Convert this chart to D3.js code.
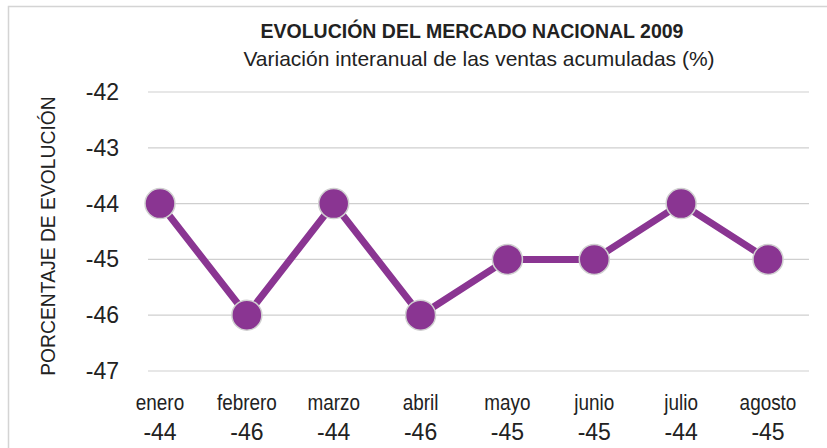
<!DOCTYPE html>
<html>
<head>
<meta charset="utf-8">
<script src="https://cdn.jsdelivr.net/npm/d3@7"></script>
<style>
  body { margin: 0; background: #fff; }
  svg text { font-family: "Liberation Sans", Arial, sans-serif; fill: #222; }
</style>
</head>
<body>
<div id="chart"></div>
<script>
// Data
var months = ["enero", "febrero", "marzo", "abril", "mayo", "junio", "julio", "agosto"];
var values = [-44, -46, -44, -46, -45, -45, -44, -45];
var yTicks = [-42, -43, -44, -45, -46, -47];

var width = 827, height = 448;
var purple = "#8a3592";

var svg = d3.select("#chart").append("svg")
  .attr("width", width)
  .attr("height", height);

// outer frame (only top and left edges are visible)
svg.append("rect")
  .attr("x", 8.5).attr("y", 6.5)
  .attr("width", 840).attr("height", 460)
  .attr("fill", "none")
  .attr("stroke", "#d4d4d4")
  .attr("stroke-width", 1.5);

// Scales
var xScale = d3.scalePoint()
  .domain(months)
  .range([160, 768]);

var yScale = d3.scaleLinear()
  .domain([-47, -42])
  .range([371, 92]);

// Gridlines
svg.append("g")
  .selectAll("line")
  .data(yTicks)
  .enter()
  .append("line")
  .attr("x1", 148).attr("x2", 809)
  .attr("y1", function(d) { return yScale(d); })
  .attr("y2", function(d) { return yScale(d); })
  .attr("stroke", "#cfcfcf")
  .attr("stroke-width", 1.2);

// Y axis labels
var yAxis = d3.axisLeft(yScale)
  .tickValues(yTicks)
  .tickSize(0)
  .tickPadding(0)
  .tickFormat(function(d) { return String(d); }); // plain hyphen

var yG = svg.append("g")
  .attr("transform", "translate(119,0)")
  .call(yAxis);
yG.select(".domain").remove();
yG.selectAll("text")
  .attr("font-size", 23)
  .attr("dy", "0.33em")
  .style("font-family", "Liberation Sans, Arial, sans-serif")
  .attr("fill", "#222");

// X axis labels (month and value)
var xG = svg.append("g");
xG.selectAll("text.month")
  .data(months)
  .enter()
  .append("text")
  .attr("class", "month")
  .attr("transform", function(d) { return "translate(" + xScale(d) + ",410) scale(0.86,1)"; })
  .attr("text-anchor", "middle")
  .attr("font-size", 22)
  .text(function(d) { return d; });

xG.selectAll("text.val")
  .data(values)
  .enter()
  .append("text")
  .attr("class", "val")
  .attr("x", function(d, i) { return xScale(months[i]); })
  .attr("y", 440)
  .attr("text-anchor", "middle")
  .attr("font-size", 23)
  .text(function(d) { return String(d); });

// Line
var line = d3.line()
  .x(function(d, i) { return xScale(months[i]); })
  .y(function(d) { return yScale(d); });

svg.append("path")
  .datum(values)
  .attr("d", line)
  .attr("fill", "none")
  .attr("stroke", purple)
  .attr("stroke-width", 7)
  .attr("stroke-linejoin", "round");

// Points
svg.selectAll("circle.pt")
  .data(values)
  .enter()
  .append("circle")
  .attr("class", "pt")
  .attr("cx", function(d, i) { return xScale(months[i]); })
  .attr("cy", function(d) { return yScale(d); })
  .attr("r", 15)
  .attr("fill", purple)
  .attr("stroke", "#d0d0d0")
  .attr("stroke-width", 1.5);

// Titles
svg.append("text")
  .attr("x", 472).attr("y", 38)
  .attr("text-anchor", "middle")
  .attr("font-size", 19.5)
  .attr("font-weight", "bold")
  .text("EVOLUCIÓN DEL MERCADO NACIONAL 2009");

svg.append("text")
  .attr("x", 479).attr("y", 66)
  .attr("text-anchor", "middle")
  .attr("font-size", 21)
  .text("Variación interanual de las ventas acumuladas (%)");

// Y axis title
svg.append("text")
  .attr("transform", "translate(55,236) rotate(-90) scale(0.92,1)")
  .attr("text-anchor", "middle")
  .attr("font-size", 21)
  .text("PORCENTAJE DE EVOLUCIÓN");
</script>
</body>
</html>
